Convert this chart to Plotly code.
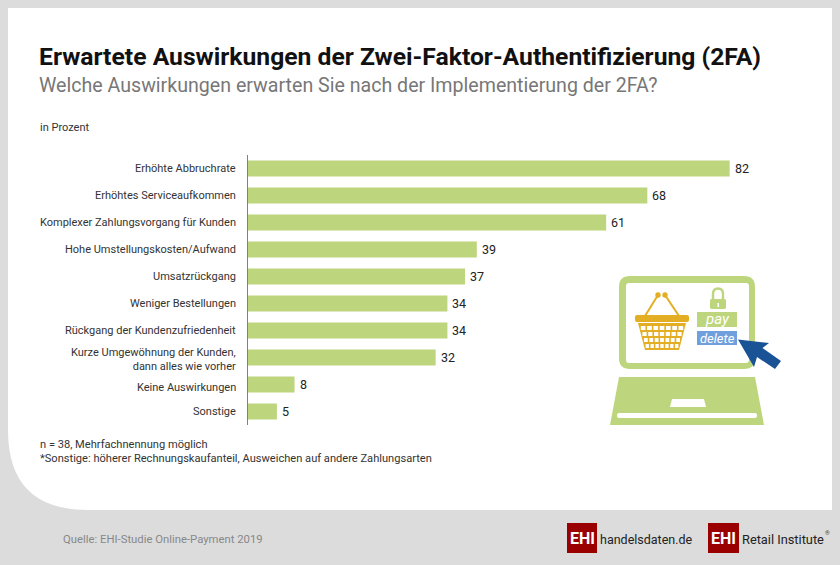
import plotly.graph_objects as go

W = 840
H = 565

categories = ['Erhöhte Abbruchrate', 'Erhöhtes Serviceaufkommen', 'Komplexer Zahlungsvorgang für Kunden',
              'Hohe Umstellungskosten/Aufwand', 'Umsatzrückgang', 'Weniger Bestellungen',
              'Rückgang der Kundenzufriedenheit', 'Kurze Umgewöhnung der Kunden,<br>dann alles wie vorher',
              'Keine Auswirkungen', 'Sonstige']
values = [82, 68, 61, 39, 37, 34, 34, 32, 8, 5]

title = 'Erwartete Auswirkungen der Zwei-Faktor-Authentifizierung (2FA)'
subtitle = 'Welche Auswirkungen erwarten Sie nach der Implementierung der 2FA?'
unit = 'in Prozent'
note = 'n = 38, Mehrfachnennung möglich<br>*Sonstige: höherer Rechnungskaufanteil, Ausweichen auf andere Zahlungsarten'
source = 'Quelle: EHI-Studie Online-Payment 2019'

FONT = 'Roboto'
GREEN = '#bdd67e'
GREY = '#dcdcdc'
ORANGE = '#e3ae24'
BLUE = '#1a5296'
RED = '#9a0000'


def fx(x):
    return x / W


def fy(y):
    return 1 - y / H


# path in pixel coords -> paper coords
def path(*parts):
    out = []
    for p in parts:
        if isinstance(p, str):
            out.append(p)
        else:
            out.append('%.5f,%.5f' % (fx(p[0]), fy(p[1])))
    return ' '.join(out)


def poly(pts, **kw):
    d = 'M ' + ' L '.join('%.5f,%.5f' % (fx(x), fy(y)) for x, y in pts) + ' Z'
    return dict(type='path', xref='paper', yref='paper', path=d, line=dict(width=0), **kw)


def rect(x0, y0, x1, y1, color, layer='above'):
    return dict(type='rect', xref='paper', yref='paper', x0=fx(x0), x1=fx(x1), y0=fy(y0), y1=fy(y1),
                fillcolor=color, line=dict(width=0), layer=layer)


def rrect(x0, y0, x1, y1, r, color, layer='above'):
    d = path('M', (x0 + r, y0), 'L', (x1 - r, y0), 'Q', (x1, y0), (x1, y0 + r), 'L', (x1, y1 - r),
             'Q', (x1, y1), (x1 - r, y1), 'L', (x0 + r, y1), 'Q', (x0, y1), (x0, y1 - r),
             'L', (x0, y0 + r), 'Q', (x0, y0), (x0 + r, y0), 'Z')
    return dict(type='path', xref='paper', yref='paper', path=d, fillcolor=color, line=dict(width=0), layer=layer)


def text(x, y, s, size, color='#333333', anchor='left', **kw):
    fam = kw.pop('family', FONT)
    return dict(xref='paper', yref='paper', x=fx(x), y=fy(y), text=s, showarrow=False, xanchor=anchor,
                yanchor='middle', align=anchor,
                font=dict(family=fam, size=size, color=color), **kw)


fig = go.Figure(go.Bar(x=values, y=categories, orientation='h', marker=dict(color=GREEN, line=dict(width=0)),
                       width=16 / 27, cliponaxis=False, hoverinfo='skip'))

shapes = []
# white panel with the big rounded corner
shapes.append(dict(type='path', xref='paper', yref='paper', layer='below', fillcolor='white', line=dict(width=0),
                   path=path('M', (8, 8), 'L', (832, 8), 'L', (832, 510), 'L', (88, 510),
                             'Q', (8, 510), (8, 430), 'Z')))

# laptop
shapes.append(rrect(619, 276, 755, 369, 11, GREEN))
shapes.append(rrect(626, 283, 749, 363, 3, 'white'))
shapes.append(poly([(619, 377), (755, 377), (764, 425), (610, 425)], fillcolor=GREEN))
shapes.append(rrect(617, 413, 757, 418, 2, 'white'))
shapes.append(poly([(672, 399), (704, 399), (706, 407), (670, 407)], fillcolor='white'))

# basket
for x0, x1 in [(658, 645), (665, 679)]:
    shapes.append(dict(type='line', xref='paper', yref='paper', x0=fx(x0), y0=fy(295), x1=fx(x1), y1=fy(316),
                       line=dict(color=ORANGE, width=2)))
for cx in (658, 665):
    shapes.append(dict(type='circle', xref='paper', yref='paper', x0=fx(cx - 2.7), x1=fx(cx + 2.7),
                       y0=fy(295 + 2.7), y1=fy(295 - 2.7), fillcolor=ORANGE, line=dict(width=0)))
shapes.append(rrect(635, 315, 689, 322, 2, ORANGE))
shapes.append(poly([(638, 323), (686, 323), (679, 350), (645, 350)], fillcolor=ORANGE))
for row, (y0, y1) in enumerate([(326, 330), (332, 336), (338, 342), (344, 348)]):
    for col in range(7):
        inset = row * 1.6
        step = (44 - 2 * inset) / 7
        xl = 640 + inset + col * step
        shapes.append(rect(xl + 0.8, y0, xl + step - 0.8, y1, 'white'))

# lock
shapes.append(dict(type='path', xref='paper', yref='paper', fillcolor='rgba(0,0,0,0)',
                   line=dict(color=GREEN, width=2.4),
                   path=path('M', (713, 300), 'L', (713, 294), 'Q', (713, 288.5), (718, 288.5), 'Q', (723, 288.5), (723, 294),
                             'L', (723, 300))))
shapes.append(rrect(710, 299, 726, 309, 1.5, GREEN))
shapes.append(rect(717.5, 303, 719, 307, 'white'))

# pay / delete buttons
shapes.append(rect(697, 312, 737, 327, GREEN))
shapes.append(rect(697, 331, 737, 345, '#6f9fdc'))

# cursor arrow
shapes.append(poly([(738, 339.5), (769, 343), (762.5, 348), (781, 361), (775, 369), (757, 357), (754, 367)], fillcolor=BLUE))

# logos
shapes.append(rect(567, 523, 597, 553, RED))
shapes.append(rect(708, 523, 739, 553, RED))

annotations = [
    text(37, 57, '<b>' + title + '</b>', 24.7, '#111111'),
    text(37, 86, subtitle, 19.6, '#777777'),
    text(38, 127, unit, 11, '#333333'),
    text(38, 451, note, 11.1, '#333333'),
    text(61, 539, source, 11.3, '#888888'),
    text(717, 318.5, '<i>pay</i>', 15, 'white', 'center'),
    text(717, 338, '<i>delete</i>', 13, 'white', 'center'),
    text(582, 538, '<b>EHI</b>', 16, 'white', 'center'),
    text(723.5, 538, '<b>EHI</b>', 16, 'white', 'center'),
    text(598, 539, 'handelsdaten<span style="color:#9a0000">.</span>de', 12.5, '#222222'),
    text(740, 539, 'Retail Institute', 12.8, '#222222'),
    text(823, 532, '®', 6, '#444444'),
]

# category and value labels, two labels sit a little lower than their bars
label_shift = {categories[7]: -2, categories[8]: -3}
for cat, val in zip(categories, values):
    annotations.append(dict(x=fx(238), y=cat, xref='paper', yref='y', text=cat, showarrow=False, xanchor='right',
                            yanchor='middle', align='right', yshift=label_shift.get(cat, 0),
                            font=dict(family=FONT, size=11, color='#333333')))
    annotations.append(dict(x=val, y=cat, xref='x', yref='y', text=str(val), showarrow=False, xanchor='left',
                            yanchor='middle', xshift=3,
                            font=dict(family=FONT, size=12.5, color='#222222')))

fig.update_layout(
    width=W, height=H, margin=dict(l=0, r=0, t=0, b=0), autosize=False,
    paper_bgcolor=GREY, plot_bgcolor='rgba(0,0,0,0)', showlegend=False,
    shapes=shapes, annotations=annotations,
    xaxis=dict(domain=[fx(247.5), fx(835.5)], range=[0, 100], visible=False),
    yaxis=dict(domain=[fy(425), fy(155)], autorange='reversed', showline=True, linecolor='#808080', linewidth=1,
               ticks='', showgrid=False, zeroline=False, showticklabels=False),
)

# browser's default body margin would shift the chart by 8px
fig.write_html("out.html", config=dict(displayModeBar=False),
               post_script="document.body.style.margin='0';document.body.style.overflow='hidden';")
